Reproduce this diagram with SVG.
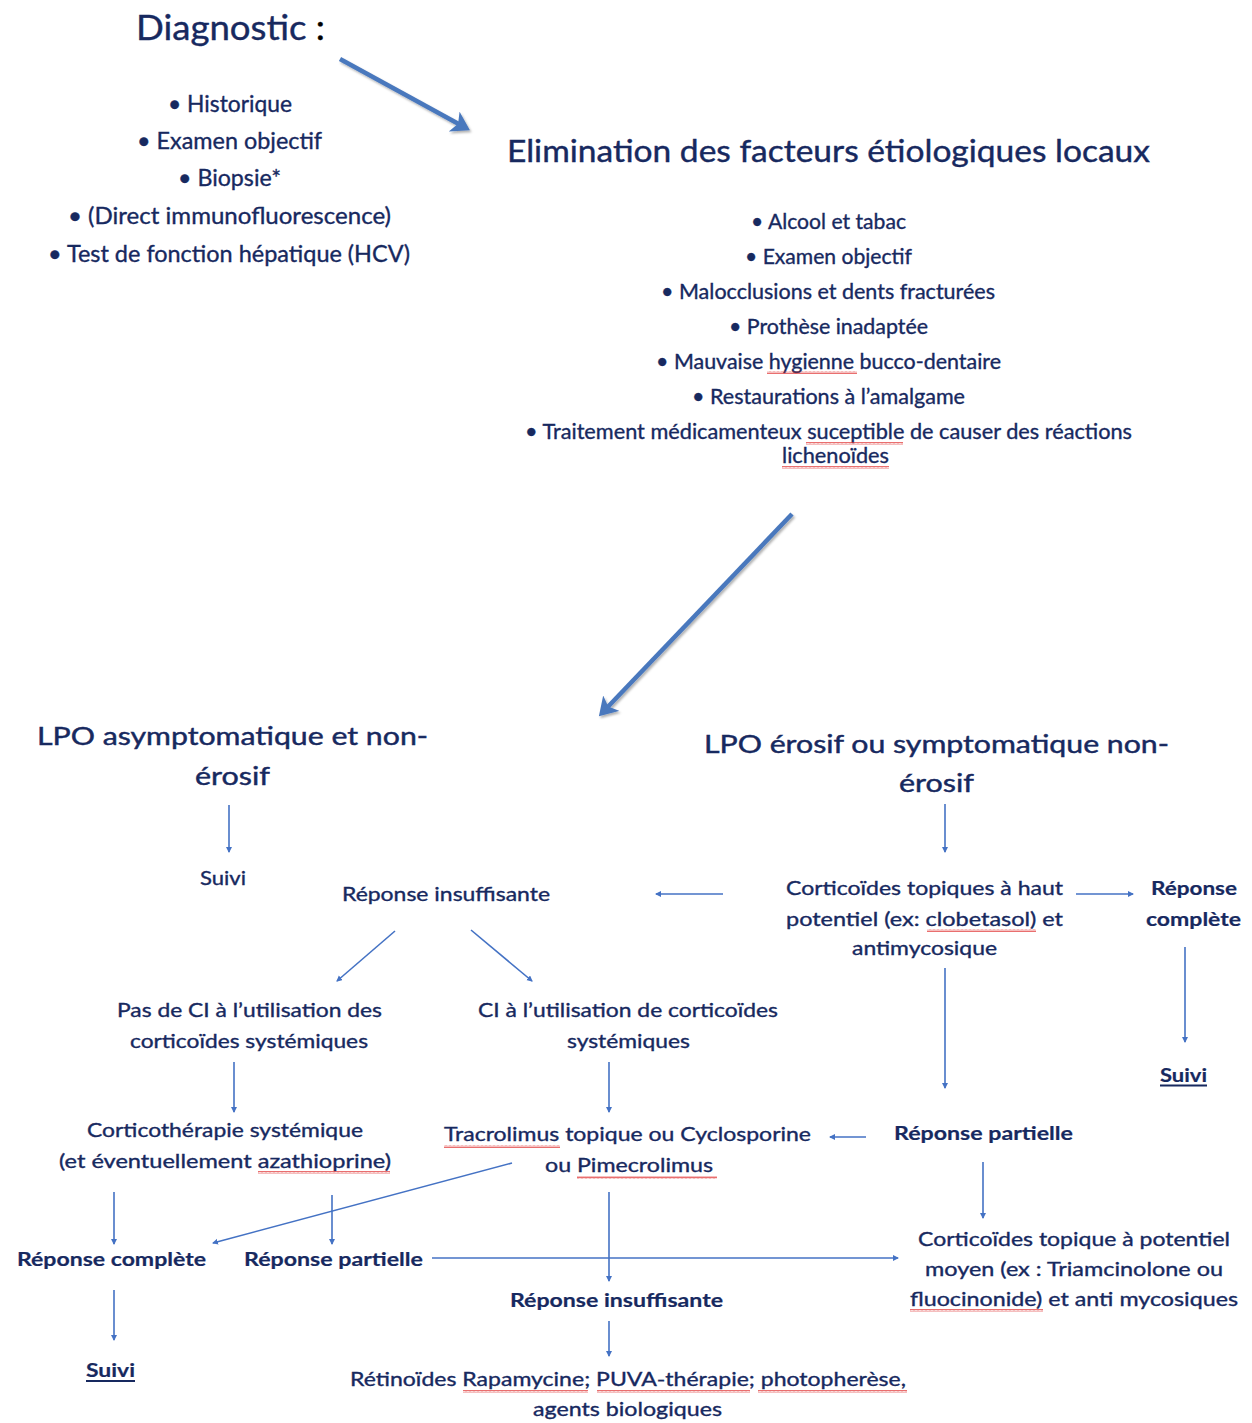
<svg xmlns="http://www.w3.org/2000/svg" width="1252" height="1423" viewBox="0 0 1252 1423">
<style>
text{font-family:Lato,"Liberation Sans",sans-serif;fill:#17295f;text-anchor:middle;stroke:#17295f;stroke-width:0.35}
.t1{font-size:35px;stroke-width:0.4}
.t2{font-size:30px;stroke-width:0.4}
.t3{font-size:25.5px;stroke-width:0.45}
.b1{font-size:23px}
.b2{font-size:21px}
.s{font-size:19px}
.bd{font-size:19px;font-weight:bold;stroke-width:0.2}
.thin{stroke:#4472c4;stroke-width:1.6;fill:none;marker-end:url(#ah)}
.big{stroke:#4a78bd;stroke-width:4.5;fill:none;marker-end:url(#bh);filter:url(#sh)}
.ul{stroke:#17295f;stroke-width:1.8}
.wv{fill:url(#wave)}
</style>
<defs>
<marker id="ah" markerWidth="8" markerHeight="8" refX="5" refY="3" orient="auto" markerUnits="userSpaceOnUse"><path d="M0,0 L6,3 L0,6 Z" fill="#4472c4"/></marker>
<marker id="bh" markerWidth="6" markerHeight="6" refX="3" refY="2.5" orient="auto"><path d="M0,0 L4,2.5 L0,5 L1,2.5 Z" fill="#4a78bd"/></marker>
<filter id="sh" x="-20%" y="-20%" width="140%" height="140%"><feDropShadow dx="1.5" dy="2" stdDeviation="1.2" flood-color="#000" flood-opacity="0.3"/></filter>
<pattern id="wave" width="4" height="3" patternUnits="userSpaceOnUse"><path d="M0,2.5 L1,0.5 L2,2.5 L3,0.5 L4,2.5" stroke="#e03030" stroke-width="0.7" fill="none"/></pattern>
</defs>

<g id="connectors">
<path class="big" d="M340,59 L466,128"/>
<path class="big" d="M792,514 L602,713"/>
<path class="thin" d="M229,805 L229,852"/>
<path class="thin" d="M945,804 L945,852"/>
<path class="thin" d="M723,894 L656,894"/>
<path class="thin" d="M1076,894 L1133,894"/>
<path class="thin" d="M1185,947 L1185,1042"/>
<path class="thin" d="M395,931 L337,981"/>
<path class="thin" d="M471,930 L532,981"/>
<path class="thin" d="M945,968 L945,1088"/>
<path class="thin" d="M234,1062 L234,1112"/>
<path class="thin" d="M609,1062 L609,1112"/>
<path class="thin" d="M866,1137 L830,1137"/>
<path class="thin" d="M983,1162 L983,1218"/>
<path class="thin" d="M114,1192 L114,1244"/>
<path class="thin" d="M332,1195 L332,1244"/>
<path class="thin" d="M512,1163 L213,1243"/>
<path class="thin" d="M432,1258 L898,1258"/>
<path class="thin" d="M609,1192 L609,1281"/>
<path class="thin" d="M609,1321 L609,1356"/>
<path class="thin" d="M114,1290 L114,1340"/>
</g>

<g id="diagnostic">
<text class="t1" x="230.5" y="40" textLength="189" lengthAdjust="spacingAndGlyphs">Diagnostic <tspan fill="#000" stroke="#000">:</tspan></text>
<text class="b1" x="230" y="112" textLength="124" lengthAdjust="spacingAndGlyphs">• Historique</text>
<text class="b1" x="229.5" y="149" textLength="185" lengthAdjust="spacingAndGlyphs">• Examen objectif</text>
<text class="b1" x="229.5" y="186" textLength="103" lengthAdjust="spacingAndGlyphs">• Biopsie*</text>
<text class="b1" x="229.5" y="224" textLength="323" lengthAdjust="spacingAndGlyphs">• (Direct immunofluorescence)</text>
<text class="b1" x="229" y="262" textLength="362" lengthAdjust="spacingAndGlyphs">• Test de fonction hépatique (HCV)</text>
</g>

<g id="elimination">
<text class="t2" x="828.5" y="162" textLength="643" lengthAdjust="spacingAndGlyphs">Elimination des facteurs étiologiques locaux</text>
<text class="b2" x="828.5" y="229" textLength="155" lengthAdjust="spacingAndGlyphs">• Alcool et tabac</text>
<text class="b2" x="828.5" y="264" textLength="167" lengthAdjust="spacingAndGlyphs">• Examen objectif</text>
<text class="b2" x="828" y="299" textLength="334" lengthAdjust="spacingAndGlyphs">• Malocclusions et dents fracturées</text>
<text class="b2" x="828.5" y="334" textLength="199" lengthAdjust="spacingAndGlyphs">• Prothèse inadaptée</text>
<text class="b2" x="828.5" y="369" textLength="345" lengthAdjust="spacingAndGlyphs">• Mauvaise hygienne bucco-dentaire</text>
<text class="b2" x="828.5" y="404" textLength="273" lengthAdjust="spacingAndGlyphs">• Restaurations à l’amalgame</text>
<text class="b2" x="828.5" y="439" textLength="607" lengthAdjust="spacingAndGlyphs">• Traitement médicamenteux suceptible de causer des réactions</text>
<text class="b2" x="835.5" y="463" textLength="107" lengthAdjust="spacingAndGlyphs">lichenoïdes</text>
<rect class="wv" x="767" y="371" width="90" height="3"/>
<rect class="wv" x="806" y="442" width="97" height="3"/>
<rect class="wv" x="782" y="466" width="107" height="3"/>
</g>

<g id="lpo-asymptomatique">
<text class="t3" x="232.5" y="745" textLength="391" lengthAdjust="spacingAndGlyphs">LPO asymptomatique et non-</text>
<text class="t3" x="232.5" y="785" textLength="75" lengthAdjust="spacingAndGlyphs">érosif</text>
</g>

<g id="lpo-erosif">
<text class="t3" x="936.5" y="753" textLength="465" lengthAdjust="spacingAndGlyphs">LPO érosif ou symptomatique non-</text>
<text class="t3" x="936.5" y="792" textLength="75" lengthAdjust="spacingAndGlyphs">érosif</text>
</g>

<g id="suivi-1">
<text class="s" x="223" y="885" textLength="46" lengthAdjust="spacingAndGlyphs">Suivi</text>
</g>

<g id="reponse-insuffisante-1">
<text class="s" x="446" y="901" textLength="208" lengthAdjust="spacingAndGlyphs">Réponse insuffisante</text>
</g>

<g id="corticoides-haut">
<text class="s" x="924.5" y="895" textLength="277" lengthAdjust="spacingAndGlyphs">Corticoïdes topiques à haut</text>
<text class="s" x="924.5" y="926" textLength="277" lengthAdjust="spacingAndGlyphs">potentiel (ex: clobetasol) et</text>
<text class="s" x="924.5" y="955" textLength="145" lengthAdjust="spacingAndGlyphs">antimycosique</text>
<rect class="wv" x="927" y="929" width="109" height="3"/>
</g>

<g id="reponse-complete-1">
<text class="bd" x="1194" y="895" textLength="86" lengthAdjust="spacingAndGlyphs">Réponse</text>
<text class="bd" x="1193.5" y="926" textLength="95" lengthAdjust="spacingAndGlyphs">complète</text>
</g>

<g id="suivi-2">
<text class="bd" x="1183.5" y="1082" textLength="47" lengthAdjust="spacingAndGlyphs">Suivi</text>
<line class="ul" x1="1160" y1="1085.5" x2="1207" y2="1085.5"/>
</g>

<g id="pas-de-ci">
<text class="s" x="249.5" y="1017" textLength="265" lengthAdjust="spacingAndGlyphs">Pas de CI à l’utilisation des</text>
<text class="s" x="249" y="1048" textLength="238" lengthAdjust="spacingAndGlyphs">corticoïdes systémiques</text>
</g>

<g id="ci">
<text class="s" x="628" y="1017" textLength="300" lengthAdjust="spacingAndGlyphs">CI à l’utilisation de corticoïdes</text>
<text class="s" x="628.5" y="1048" textLength="123" lengthAdjust="spacingAndGlyphs">systémiques</text>
</g>

<g id="corticotherapie">
<text class="s" x="225" y="1137" textLength="276" lengthAdjust="spacingAndGlyphs">Corticothérapie systémique</text>
<text class="s" x="225" y="1168" textLength="332" lengthAdjust="spacingAndGlyphs">(et éventuellement azathioprine)</text>
<rect class="wv" x="258" y="1171" width="132" height="3"/>
</g>

<g id="tracrolimus">
<text class="s" x="627.5" y="1141" textLength="367" lengthAdjust="spacingAndGlyphs">Tracrolimus topique ou Cyclosporine</text>
<text class="s" x="629" y="1172" textLength="168" lengthAdjust="spacingAndGlyphs">ou Pimecrolimus</text>
<rect class="wv" x="444" y="1145" width="116" height="3"/>
<rect class="wv" x="577" y="1176" width="140" height="3"/>
</g>

<g id="reponse-partielle-1">
<text class="bd" x="983.5" y="1140" textLength="179" lengthAdjust="spacingAndGlyphs">Réponse partielle</text>
</g>

<g id="corticoides-moyen">
<text class="s" x="1074" y="1246" textLength="312" lengthAdjust="spacingAndGlyphs">Corticoïdes topique à potentiel</text>
<text class="s" x="1074" y="1276" textLength="298" lengthAdjust="spacingAndGlyphs">moyen (ex : Triamcinolone ou</text>
<text class="s" x="1074" y="1306" textLength="328" lengthAdjust="spacingAndGlyphs">fluocinonide) et anti mycosiques</text>
<rect class="wv" x="910" y="1309" width="133" height="3"/>
</g>

<g id="reponse-complete-2">
<text class="bd" x="111.5" y="1266" textLength="189" lengthAdjust="spacingAndGlyphs">Réponse complète</text>
</g>

<g id="reponse-partielle-2">
<text class="bd" x="333.5" y="1266" textLength="179" lengthAdjust="spacingAndGlyphs">Réponse partielle</text>
</g>

<g id="reponse-insuffisante-2">
<text class="bd" x="616.5" y="1307" textLength="213" lengthAdjust="spacingAndGlyphs">Réponse insuffisante</text>
</g>

<g id="suivi-3">
<text class="bd" x="110.5" y="1377" textLength="49" lengthAdjust="spacingAndGlyphs">Suivi</text>
<line class="ul" x1="86" y1="1381" x2="135" y2="1381"/>
</g>

<g id="retinoides">
<text class="s" x="628" y="1386" textLength="556" lengthAdjust="spacingAndGlyphs">Rétinoïdes Rapamycine; PUVA-thérapie; photopherèse,</text>
<text class="s" x="627.5" y="1416" textLength="189" lengthAdjust="spacingAndGlyphs">agents biologiques</text>
<rect class="wv" x="463" y="1390" width="125" height="3"/>
<rect class="wv" x="597" y="1390" width="153" height="3"/>
<rect class="wv" x="758" y="1390" width="149" height="3"/>
</g>
</svg>
